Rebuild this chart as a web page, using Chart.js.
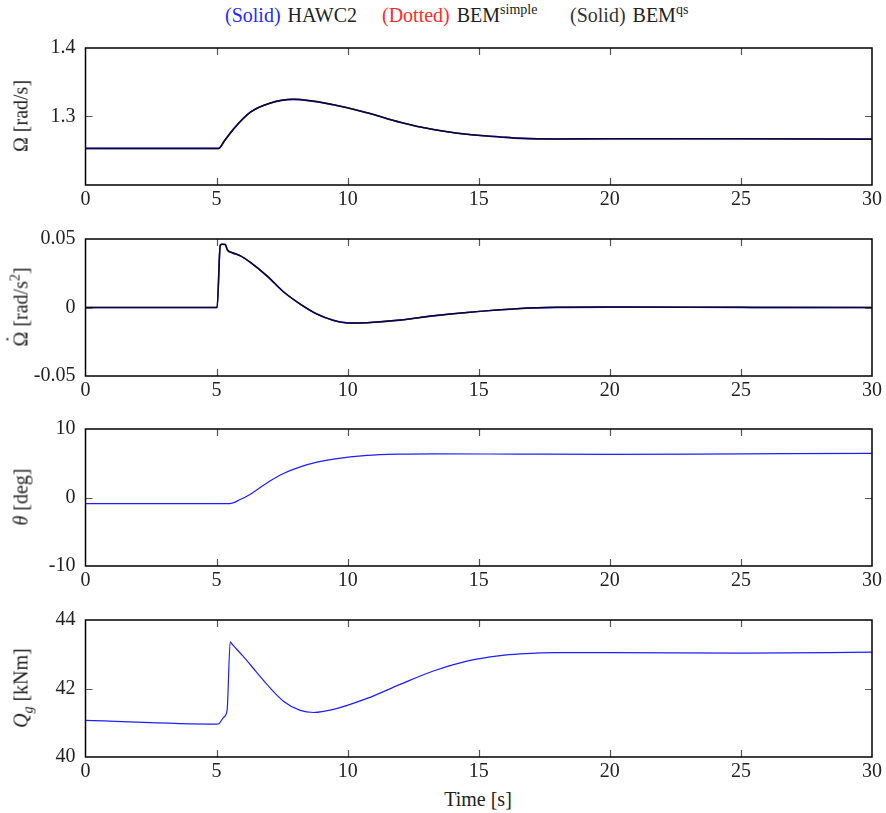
<!DOCTYPE html>
<html>
<head>
<meta charset="utf-8">
<script src="https://cdn.jsdelivr.net/npm/chart.js@4.4.1/dist/chart.umd.min.js"></script>
<style>
  html, body { margin:0; padding:0; background:#fff; }
  body { width:886px; height:813px; position:relative; overflow:hidden;
         font-family:"Liberation Serif","DejaVu Serif",serif; color:#222; }
  .pane { position:absolute; left:0; width:886px; }
  .ylab { position:absolute; left:21px; white-space:nowrap; font-size:20px;
          transform:translate(-50%,-50%) rotate(-90deg); }
  .lg { position:absolute; top:4px; font-size:20px; white-space:nowrap; word-spacing:2px; }
  .lg sup { font-size:14px; vertical-align:8px; line-height:0; }
  #xlab { position:absolute; top:788px; left:478px; transform:translateX(-50%);
          font-size:20px; white-space:nowrap; }
  .dotted { position:relative; display:inline-block; }
  .dotted .dot { position:absolute; left:0; right:0; top:-7px; text-align:center; }
</style>
</head>
<body>
<div class="lg" style="left:225px"><span style="color:#2828ff">(Solid)</span> HAWC2</div>
<div class="lg" style="left:382px"><span style="color:#ff2a2a">(Dotted)</span> BEM<sup>simple</sup></div>
<div class="lg" style="left:570px"><span style="color:#333">(Solid)</span> BEM<sup>qs</sup></div>
<div id="xlab">Time [s]</div>
<script>
// ---------- data ----------
const xTicks = [0, 5, 10, 15, 20, 25, 30];

const tOmega = [0, 5.08, 5.3, 5.65, 6.29, 7.0, 7.93, 9.46, 10.74, 12.0, 13.27, 14.55, 15.82, 16.58, 18, 20, 25, 30];
const omega  = [1.2534, 1.2534, 1.2645, 1.2819, 1.3063, 1.3190, 1.3250, 1.3172, 1.3054, 1.2916, 1.2809, 1.2740, 1.2701, 1.2681, 1.2672, 1.2676, 1.2675, 1.2669];

const tOmegaDot = [0, 5.02, 5.14, 5.22, 5.33, 5.42, 5.6, 5.91, 6.29, 6.92, 7.55, 8.19, 8.83, 9.46, 10.1, 10.74, 12.0, 13.27, 14.55, 16.58, 18, 20, 25, 30];
const omegaDot  = [0, 0, 0.0455, 0.0462, 0.0460, 0.0418, 0.0400, 0.0377, 0.0329, 0.0231, 0.0115, 0.0025, -0.0048, -0.0094, -0.0114, -0.0111, -0.0092, -0.0061, -0.0036, -0.0007, 0.0001, 0.0003, 0.0001, 0];

const tPitch = [0, 5.5, 5.9, 6.29, 6.92, 7.55, 8.19, 8.83, 9.46, 10.74, 12.0, 13.27, 16.58, 20, 25, 30];
const pitch  = [-0.88, -0.88, -0.3, 0.48, 2.13, 3.5, 4.47, 5.16, 5.6, 6.14, 6.33, 6.37, 6.33, 6.3, 6.38, 6.45];

const tTorque = [0, 5.0, 5.1, 5.27, 5.4, 5.52, 5.6, 6.0, 6.5, 6.92, 7.55, 8.19, 8.7, 9.46, 10.74, 12.0, 13.27, 14.55, 15.82, 16.58, 18, 20, 25, 30];
const torque  = [41.07, 40.96, 40.98, 41.16, 41.36, 43.36, 43.29, 42.95, 42.50, 42.12, 41.63, 41.36, 41.30, 41.39, 41.71, 42.12, 42.51, 42.80, 42.96, 43.01, 43.05, 43.05, 43.03, 43.06];

const yTicks1 = [1.3, 1.4];
const yTicks2 = [-0.05, 0, 0.05];
const yTicks3 = [-10, 0, 10];
const yTicks4 = [40, 42, 44];

// ---------- helpers ----------
const FONT = { family: '"Liberation Serif","DejaVu Serif",serif', size: 20 };
const zip = (xs, ys) => xs.map((x, i) => ({ x, y: ys[i] }));

const boxPlugin = {
  id: 'box',
  afterDraw(chart) {
    const { ctx, chartArea: a, scales } = chart;
    ctx.save();
    ctx.strokeStyle = '#555';
    ctx.lineWidth = 1.2;
    const L = 7;
    scales.x.ticks.forEach(t => {
      if (t.value <= scales.x.min || t.value >= scales.x.max) return;
      const px = Math.round(scales.x.getPixelForValue(t.value)) + 0.5;
      ctx.beginPath();
      ctx.moveTo(px, a.bottom); ctx.lineTo(px, a.bottom - L);
      ctx.moveTo(px, a.top); ctx.lineTo(px, a.top + L);
      ctx.stroke();
    });
    scales.y.ticks.forEach(t => {
      if (t.value <= scales.y.min || t.value >= scales.y.max) return;
      const py = Math.round(scales.y.getPixelForValue(t.value)) + 0.5;
      ctx.beginPath();
      ctx.moveTo(a.left, py); ctx.lineTo(a.left + L, py);
      ctx.moveTo(a.right, py); ctx.lineTo(a.right - L, py);
      ctx.stroke();
    });
    ctx.strokeStyle = '#000';
    ctx.lineWidth = 1.5;
    ctx.strokeRect(a.left, a.top, a.right - a.left, a.bottom - a.top);
    ctx.restore();
  }
};

function makePanel(plotTop, yMin, yMax, yTicks, datasets, label) {
  const div = document.createElement('div');
  div.className = 'pane';
  const cTop = plotTop - 10;
  div.style.top = cTop + 'px';
  const cv = document.createElement('canvas');
  cv.width = 886; cv.height = 10 + 137 + 34;
  cv.style.width = '886px'; cv.style.height = cv.height + 'px';
  div.appendChild(cv);
  document.body.appendChild(div);

  const lab = document.createElement('div');
  lab.className = 'ylab';
  lab.innerHTML = label;
  lab.style.top = (plotTop + 68) + 'px';
  document.body.appendChild(lab);

  new Chart(cv.getContext('2d'), {
    type: 'line',
    data: { datasets },
    options: {
      responsive: false, animation: false, devicePixelRatio: 1,
      layout: { autoPadding: false, padding: { top: 10, right: 14, left: 0, bottom: 0 } },
      plugins: { legend: { display: false }, tooltip: { enabled: false } },
      elements: { point: { radius: 0 } },
      scales: {
        x: {
          type: 'linear', min: 0, max: 30,
          afterBuildTicks: s => { s.ticks = xTicks.map(v => ({ value: v })); },
          afterFit: s => { s.height = 34; s.paddingLeft = 0; s.paddingRight = 0; },
          grid: { display: false, drawTicks: false }, border: { display: false },
          ticks: { font: FONT, color: '#222', padding: 3, maxRotation: 0, autoSkip: false,
                   callback: v => String(v) }
        },
        y: {
          type: 'linear', min: yMin, max: yMax,
          afterBuildTicks: s => { s.ticks = yTicks.map(v => ({ value: v })); },
          afterFit: s => { s.width = 85.5; s.paddingTop = 0; s.paddingBottom = 0; },
          grid: { display: false, drawTicks: false }, border: { display: false },
          ticks: { font: FONT, color: '#222', padding: 10, autoSkip: false,
                   callback: v => String(v) }
        }
      }
    },
    plugins: [boxPlugin]
  });
}

// first dataset is drawn on top: BEM qs (black) over BEM simple (red dotted) over HAWC2 (blue)
function threeSeries(xs, ys) {
  return [
    { label: 'BEM qs', data: zip(xs, ys), borderColor: '#0a0a28', borderWidth: 1.5, cubicInterpolationMode: 'monotone', parsing: false },
    { label: 'BEM simple', data: zip(xs, ys), borderColor: '#ff2020', borderWidth: 1, borderDash: [1, 2], cubicInterpolationMode: 'monotone', parsing: false },
    { label: 'HAWC2', data: zip(xs, ys), borderColor: '#2020ff', borderWidth: 1.6, cubicInterpolationMode: 'monotone', parsing: false }
  ];
}
function blueOnly(xs, ys) {
  return [{ label: 'HAWC2', data: zip(xs, ys), borderColor: '#1e1eff', borderWidth: 1.2, cubicInterpolationMode: 'monotone', parsing: false }];
}

makePanel(48, 1.2, 1.4, yTicks1, threeSeries(tOmega, omega), 'Ω [rad/s]');
makePanel(238.5, -0.05, 0.05, yTicks2, threeSeries(tOmegaDot, omegaDot), '<span class="dotted">Ω<span class="dot">˙</span></span> [rad/s<sup style="font-size:14px;line-height:0">2</sup>]');
makePanel(429, -10, 10, yTicks3, blueOnly(tPitch, pitch), '<i>θ</i> [deg]');
makePanel(619.5, 40, 44, yTicks4, blueOnly(tTorque, torque), '<i>Q<sub style="font-size:14px;line-height:0">g</sub></i> [kNm]');
</script>
</body>
</html>
